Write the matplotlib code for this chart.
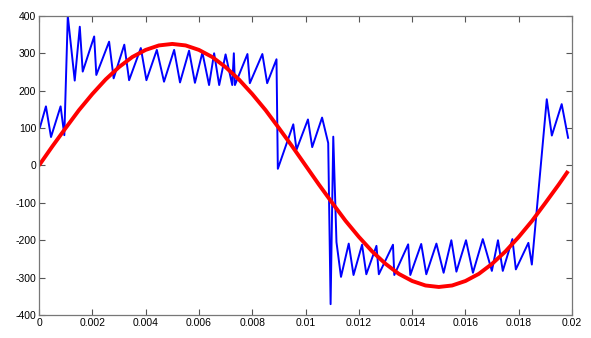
import matplotlib
matplotlib.use('Agg')
import matplotlib.pyplot as plt

plt.rcParams['font.family'] = ['Liberation Sans', 'DejaVu Sans']
plt.rcParams['axes.unicode_minus'] = False

# blue waveform (time in s, value)
t_blue = [0.00004, 0.00026, 0.00045, 0.00081, 0.00095, 0.00108, 0.00134, 0.00153, 0.00164,
          0.00207, 0.00215, 0.00263, 0.00280, 0.00320, 0.00338, 0.00382, 0.00403, 0.00442,
          0.00469, 0.00507, 0.00529, 0.00563, 0.00585, 0.00613, 0.00638, 0.00657, 0.00676,
          0.00700, 0.00725, 0.00731, 0.00735, 0.00782, 0.00791, 0.00838, 0.00856, 0.00891,
          0.00896, 0.00954, 0.00966, 0.01009, 0.01025, 0.01062, 0.01085, 0.01094, 0.01104,
          0.01116, 0.01133, 0.01162, 0.01180, 0.01212, 0.01228, 0.01266, 0.01275, 0.01328,
          0.01333, 0.01385, 0.01393, 0.01434, 0.01453, 0.01491, 0.01518, 0.01547, 0.01566,
          0.01602, 0.01628, 0.01665, 0.01699, 0.01722, 0.01740, 0.01776, 0.01789, 0.01836,
          0.01849, 0.01905, 0.01924, 0.01961, 0.01985]
v_blue = [103, 158, 76, 158, 81, 400, 227, 371, 251,
          345, 242, 331, 233, 323, 228, 314, 228, 309,
          224, 309, 222, 307, 221, 302, 215, 300, 215,
          297, 215, 300, 215, 298, 220, 298, 220, 284,
          -9, 110, 42, 123, 49, 128, 60, -371, 77,
          -205, -298, -209, -293, -212, -291, -215, -291, -212,
          -293, -211, -293, -210, -291, -209, -287, -200, -284,
          -200, -287, -197, -282, -200, -282, -197, -278, -207,
          -265, 177, 80, 164, 74]

# red fundamental (sampled every 0.5 ms)
t_red = [0.0, 0.0005, 0.001, 0.0015, 0.002, 0.0025, 0.003, 0.0035, 0.004, 0.0045,
         0.005, 0.0055, 0.006, 0.0065, 0.007, 0.0075, 0.008, 0.0085, 0.009, 0.0095,
         0.010, 0.0105, 0.011, 0.0115, 0.012, 0.0125, 0.013, 0.0135, 0.014, 0.0145,
         0.015, 0.0155, 0.016, 0.0165, 0.017, 0.0175, 0.018, 0.0185, 0.019, 0.0195,
         0.01985]
v_red = [0, 51, 100, 148, 191, 230, 263, 290, 309, 321,
         325, 321, 309, 290, 263, 230, 191, 148, 100, 51,
         0, -51, -100, -148, -191, -230, -263, -290, -309, -321,
         -325, -321, -309, -290, -263, -230, -191, -148, -100, -51,
         -15]

xticks = [0, 0.002, 0.004, 0.006, 0.008, 0.01, 0.012, 0.014, 0.016, 0.018, 0.02]
xtick_labels = ['0', '0.002', '0.004', '0.006', '0.008', '0.01', '0.012', '0.014',
                '0.016', '0.018', '0.02']
yticks = [-400, -300, -200, -100, 0, 100, 200, 300, 400]

fig = plt.figure(figsize=(5.91, 3.38), dpi=100)
ax = fig.add_axes([0.066, 0.068, 0.902, 0.885])

ax.plot(t_blue, v_blue, color='#0000ff', lw=1.4)
ax.plot(t_red, v_red, color='#ff0000', lw=2.8, solid_capstyle='butt')

ax.set_xlim(0, 0.02)
ax.set_ylim(-400, 400)
ax.set_xticks(xticks)
ax.set_xticklabels(xtick_labels)
ax.set_yticks(yticks)
ax.tick_params(direction='in', length=4, width=0.8, color='#555555',
               labelsize=7.5, top=True, right=True, pad=2)
for s in ax.spines.values():
    s.set_color('#777777')
    s.set_linewidth(0.9)

fig.savefig('out.png', dpi=100)
